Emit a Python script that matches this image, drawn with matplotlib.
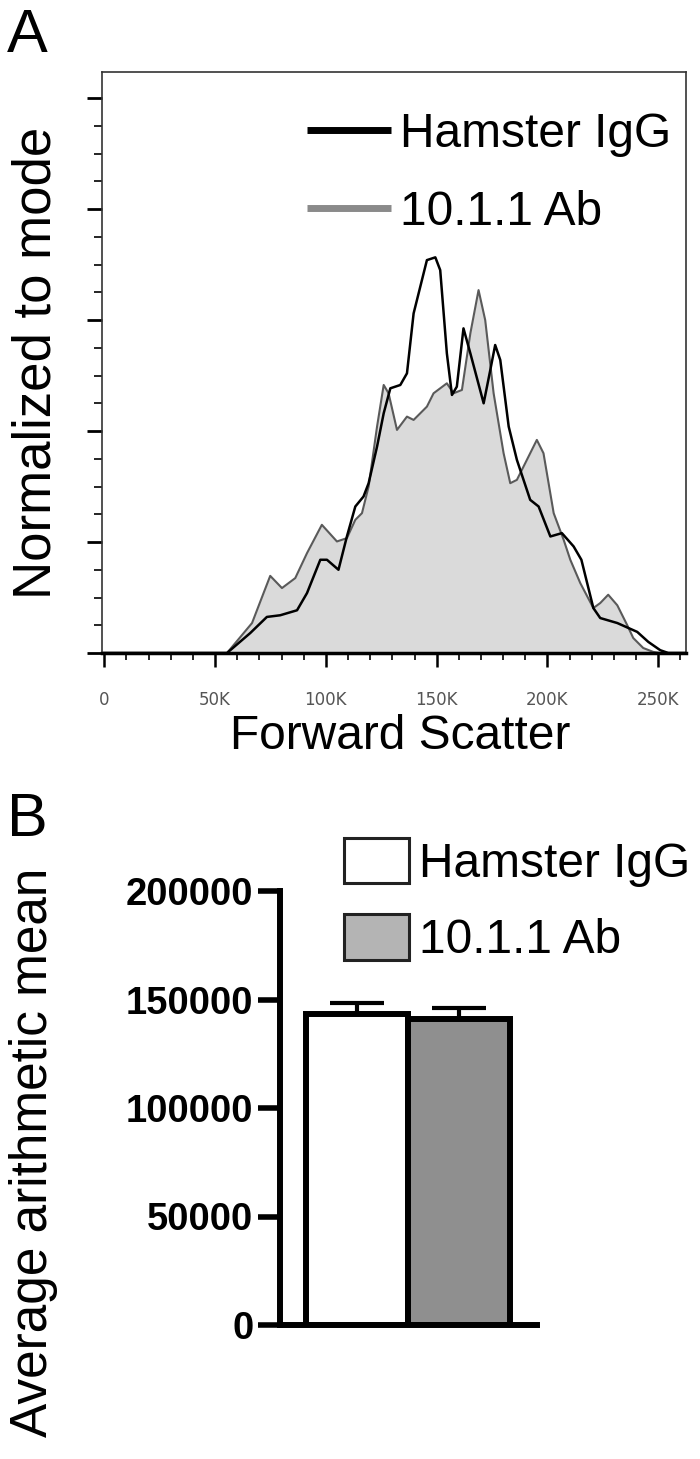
import matplotlib
matplotlib.use('Agg')
import matplotlib.pyplot as plt
from matplotlib.patches import Patch
from matplotlib.lines import Line2D
import numpy as np

plt.rcParams['font.family'] = ['Liberation Sans', 'DejaVu Sans']

# ---------------- Panel A data (Forward scatter in K, normalized to mode) ----------------
fsc_igg_k = [0, 55.4, 65.9, 73.4, 79.4, 87.0, 91.5, 97.5, 100.5, 105.7, 109.5, 113.3, 117.0,
             119.3, 123.1, 126.1, 129.1, 133.6, 136.6, 139.6, 145.6, 149.4, 151.6, 154.6,
             156.9, 159.1, 162.1, 165.2, 171.2, 174.2, 176.4, 178.7, 182.5, 186.2, 192.2,
             196.0, 201.3, 206.5, 211.8, 215.3, 220.7, 223.8, 231.5, 240.5, 245.5, 250.9,
             254.5, 262.0]
norm_igg = [0, 0, 3.6, 6.5, 6.8, 7.7, 10.8, 16.8, 16.8, 15.0, 21.0, 26.4, 28.2,
            30.6, 37.2, 43.2, 47.7, 48.3, 50.4, 61.2, 70.8, 71.3, 69.0, 54.0,
            46.5, 48.0, 58.5, 54.0, 45.0, 51.0, 55.5, 52.8, 40.8, 34.8, 27.6,
            26.4, 21.0, 21.6, 19.2, 16.8, 8.1, 6.3, 5.4, 3.8, 2.0, 0.5,
            0, 0]

fsc_ab_k = [0, 55.4, 66.7, 71.9, 74.9, 80.2, 86.2, 91.5, 98.2, 105.0, 109.5, 113.3, 116.3,
            119.3, 123.1, 126.1, 128.3, 132.1, 136.6, 139.6, 145.6, 148.6, 154.6, 157.6,
            161.4, 165.2, 168.9, 171.9, 175.7, 180.2, 183.2, 186.2, 190.7, 195.2, 198.2,
            202.8, 207.3, 210.3, 214.8, 220.7, 223.8, 227.4, 231.5, 236.0, 238.7, 243.2,
            247.7, 250.9, 262.0]
norm_ab = [0, 0, 5.4, 10.8, 13.9, 11.7, 13.5, 18.0, 23.1, 20.1, 20.7, 24.0, 25.2,
           30.0, 40.8, 48.3, 46.8, 40.2, 42.6, 42.0, 44.4, 46.8, 48.6, 46.8,
           47.4, 57.6, 65.4, 60.0, 46.8, 36.0, 30.6, 31.2, 34.8, 38.4, 36.0,
           25.2, 20.4, 16.8, 12.6, 8.1, 9.0, 10.5, 8.6, 5.0, 2.7, 0.9,
           0.2, 0, 0]

series_labels = ['Hamster IgG', '10.1.1 Ab']
xticks_A = [0, 50000, 100000, 150000, 200000, 250000]
xticklabels_A = ['0', '50K', '100K', '150K', '200K', '250K']

# ---------------- Panel B data ----------------
groups = ['Hamster IgG', '10.1.1 Ab']
means = [143500, 141000]
sems = [5000, 4900]
yticks_B = [0, 50000, 100000, 150000, 200000]

W, H = 700, 1459
fig = plt.figure(figsize=(W / 100, H / 100), dpi=100)


def rect(l, t, r, b):
    return [l / W, 1 - b / H, (r - l) / W, (b - t) / H]


# ================= Panel A =================
axA = fig.add_axes(rect(102, 72, 686, 653))
xa = np.array(fsc_ab_k) * 1000
xi = np.array(fsc_igg_k) * 1000
axA.fill_between(xa, norm_ab, 0, color='#dadada', lw=0, zorder=1)
axA.plot(xa, norm_ab, color='#5a5a5a', lw=1.5, zorder=2)
axA.plot(xi, norm_igg, color='black', lw=1.8, zorder=3)
axA.set_xlim(-1000, 262500)
axA.set_ylim(0, 104.7)

for s in ['left', 'top', 'right']:
    axA.spines[s].set_linewidth(1.2)
    axA.spines[s].set_color('#333333')
axA.spines['bottom'].set_linewidth(2.5)
axA.spines['bottom'].set_color('black')

axA.set_yticks(np.arange(0, 101, 20))
axA.set_yticks(np.arange(0, 101, 5), minor=True)
axA.tick_params(axis='y', which='major', length=11, width=2, direction='out', labelleft=False)
axA.tick_params(axis='y', which='minor', length=5.5, width=1.2, direction='out')
axA.set_xticks(xticks_A)
axA.set_xticklabels(xticklabels_A)
axA.set_xticks(np.arange(0, 262001, 10000), minor=True)
axA.tick_params(axis='x', which='major', length=10, width=1.8, direction='out',
                labelsize=12, labelcolor='#555555', pad=17)
axA.tick_params(axis='x', which='minor', length=5, width=1.2, direction='out')
for lbl in axA.get_xticklabels():
    lbl.set_fontfamily('DejaVu Sans')

axA.set_xlabel('Forward Scatter', fontsize=34.5)
axA.xaxis.set_label_coords(0.51, -0.105)
axA.set_ylabel('Normalized to mode', fontsize=38)
axA.yaxis.set_label_coords(-0.070, 0.5)

handlesA = [Line2D([], [], color='black', lw=5, solid_capstyle='butt'),
            Line2D([], [], color='#8a8a8a', lw=5, solid_capstyle='butt')]
axA.legend(handlesA, series_labels, loc='upper left',
           bbox_to_anchor=(307 / W, 1 - 112 / H), bbox_transform=fig.transFigure,
           frameon=False, borderpad=0, borderaxespad=0, handlelength=1.75,
           handletextpad=0.2, labelspacing=0.68, prop={'size': 34.5})

# ================= Panel B =================
axB = fig.add_axes(rect(280, 891, 537, 1325))
xpos = np.arange(len(groups))
axB.bar(xpos, means, width=1.0, color=['white', '#8f8f8f'], edgecolor='black',
        linewidth=4.3, zorder=2)
axB.errorbar(xpos, means, yerr=[[0] * len(sems), sems], fmt='none', ecolor='black',
             elinewidth=3, capsize=19.5, capthick=3, zorder=1)
axB.set_xlim(-0.755, 1.76)
axB.set_ylim(0, 200000)
axB.spines['top'].set_visible(False)
axB.spines['right'].set_visible(False)
for s in ['left', 'bottom']:
    axB.spines[s].set_linewidth(4.3)
    axB.spines[s].set_color('black')
axB.set_xticks([])
axB.set_yticks(yticks_B)
axB.set_yticklabels([str(v) for v in yticks_B])
axB.tick_params(axis='y', length=15.5, width=4, pad=3.6, labelsize=27.5)
for lbl in axB.get_yticklabels():
    lbl.set_fontweight('bold')

axB.set_ylabel('Average arithmetic mean', fontsize=37)
axB.yaxis.set_label_coords(-0.865, 0.399)

handlesB = [Patch(facecolor='white', edgecolor='#222222', lw=2.2),
            Patch(facecolor='#b4b4b4', edgecolor='#222222', lw=2.2)]
axB.legend(handlesB, groups, loc='upper left',
           bbox_to_anchor=(344 / W, 1 - 838 / H), bbox_transform=fig.transFigure,
           frameon=False, borderpad=0, borderaxespad=0, handlelength=1.354,
           handleheight=1.083, handletextpad=0.21, labelspacing=0.565,
           prop={'size': 34.5})

# Panel letters
fig.text(7 / W, 1 - 52 / H, 'A', fontsize=44, ha='left', va='baseline')
fig.text(7 / W, 1 - 836 / H, 'B', fontsize=44, ha='left', va='baseline')

fig.savefig('out.png', dpi=100)
